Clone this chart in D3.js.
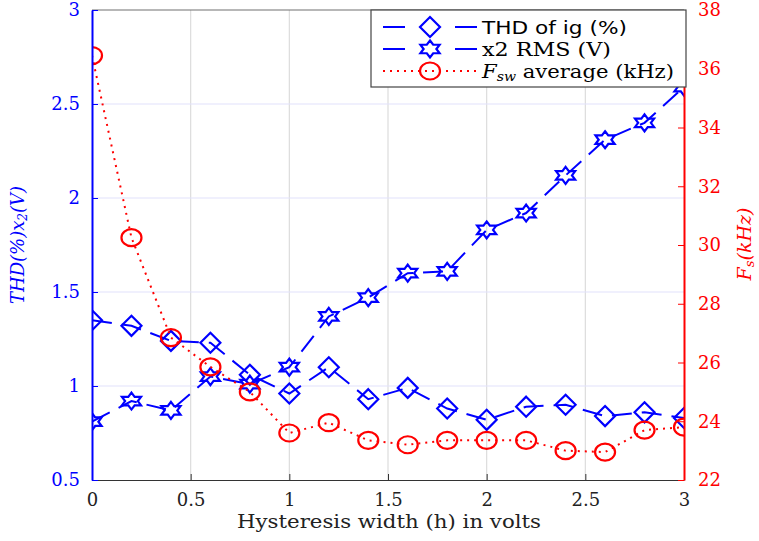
<!DOCTYPE html>
<meta charset="utf-8">
<style>
body { margin: 0; background: #fff; }
.tick text { font-family: "DejaVu Serif", serif; font-size: 18px; }
</style>
<svg width="759" height="541"></svg>
<script src="https://d3js.org/d3.v7.min.js"></script>
<script>

// hysteresis width (V)
var hyst = [0, 0.2, 0.4, 0.6, 0.8, 1.0, 1.2, 1.4, 1.6, 1.8, 2.0, 2.2, 2.4, 2.6, 2.8, 3.0];
// THD of ig (%)
var thd = [1.35, 1.32, 1.24, 1.23, 1.06, 0.96, 1.10, 0.93, 0.99, 0.88, 0.82, 0.89, 0.90, 0.84, 0.86, 0.83];
// x2 RMS (V)
var x2rms = [0.81, 0.92, 0.87, 1.05, 1.01, 1.10, 1.37, 1.47, 1.60, 1.61, 1.83, 1.92, 2.12, 2.31, 2.40, 2.59];
// average switching frequency (kHz)
var fsw = [36.45, 30.25, 26.85, 25.85, 25.0, 23.6, 23.95, 23.35, 23.2, 23.35, 23.35, 23.35, 23.0, 22.95, 23.7, 23.8];

var xTicks = [0, 0.5, 1, 1.5, 2, 2.5, 3];
var yTicks = [0.5, 1, 1.5, 2, 2.5, 3];
var y2Ticks = [22, 24, 26, 28, 30, 32, 34, 36, 38];

var svg = d3.select("svg"),
    pLeft = 92, pRight = 684, pTop = 10, pBottom = 480;

var x = d3.scaleLinear().domain([0, 3]).range([pLeft, pRight]);
var y = d3.scaleLinear().domain([0.5, 3]).range([pBottom, pTop]);
var y2 = d3.scaleLinear().domain([22, 38]).range([pBottom, pTop]);

// markers are clipped to the axes box like in matlab
svg.append("defs").append("clipPath").attr("id", "box")
  .append("rect").attr("x", pLeft).attr("y", pTop)
    .attr("width", pRight - pLeft).attr("height", pBottom - pTop);

// grid
svg.append("g").selectAll("line").data(xTicks.slice(1, -1)).enter().append("line")
    .attr("x1", x).attr("x2", x).attr("y1", pTop).attr("y2", pBottom)
    .attr("stroke", "#dcdcdc").attr("stroke-width", 1.2);
svg.append("g").selectAll("line").data(yTicks.slice(1, -1)).enter().append("line")
    .attr("x1", pLeft).attr("x2", pRight).attr("y1", y).attr("y2", y)
    .attr("stroke", "#e2e2fb").attr("stroke-width", 1.2);

// top border
svg.append("line").attr("x1", pLeft).attr("x2", pRight).attr("y1", pTop).attr("y2", pTop)
    .attr("stroke", "#707070").attr("stroke-width", 1.2);

// marker shapes
function diamond(s) {
  return "M0," + (-s) + "L" + s + ",0L0," + s + "L" + (-s) + ",0Z";
}
function hexagram(r, sx) {
  var p = [];
  for (var i = 0; i < 12; i++) {
    var a = -Math.PI / 2 + i * Math.PI / 6,
        rr = i % 2 ? r / Math.sqrt(3) : r;
    p.push([rr * Math.cos(a) * sx, rr * Math.sin(a)]);
  }
  return "M" + p.join("L") + "Z";
}
var ring = "M-10,0A10,8.5 0 1,0 10,0A10,8.5 0 1,0 -10,0Z";

var plot = svg.append("g").attr("clip-path", "url(#box)");
var idx = d3.range(hyst.length);

function drawSeries(vals, scale, color, dash, marker) {
  var line = d3.line().x(function(i) { return x(hyst[i]); }).y(function(i) { return scale(vals[i]); });
  plot.append("path").datum(idx).attr("d", line)
      .attr("fill", "none").attr("stroke", color).attr("stroke-width", 2)
      .attr("stroke-dasharray", dash);
  plot.append("g").selectAll("path").data(idx).enter().append("path")
      .attr("transform", function(i) { return "translate(" + x(hyst[i]) + "," + scale(vals[i]) + ")"; })
      .attr("d", marker)
      .attr("fill", "none").attr("stroke", color).attr("stroke-width", 2.2);
}

drawSeries(thd, y, "#0000ff", "20,10", diamond(10));
drawSeries(x2rms, y, "#0000ff", "20,10", hexagram(8.5, 1.3));
drawSeries(fsw, y2, "#ff0000", "2,5", ring);

// axes
var xAxis = svg.append("g").attr("transform", "translate(0," + pBottom + ")")
    .call(d3.axisBottom(x).tickValues(xTicks).tickSizeInner(-6).tickSizeOuter(0).tickPadding(13).tickFormat(d3.format("")));
xAxis.select(".domain").attr("stroke", "#333").attr("stroke-width", 1.2);
xAxis.selectAll(".tick line").attr("stroke", "#333");
xAxis.selectAll(".tick text").attr("fill", "#222");

var yAxis = svg.append("g").attr("transform", "translate(" + pLeft + ",0)")
    .call(d3.axisLeft(y).tickValues(yTicks).tickSizeInner(-6).tickSizeOuter(0).tickPadding(12).tickFormat(d3.format("")));
yAxis.select(".domain").attr("stroke", "#0000ff").attr("stroke-width", 2);
yAxis.selectAll(".tick line").attr("stroke", "#0000ff");
yAxis.selectAll(".tick text").attr("fill", "#0000ff");

var y2Axis = svg.append("g").attr("transform", "translate(" + pRight + ",0)")
    .call(d3.axisRight(y2).tickValues(y2Ticks).tickSizeInner(-6).tickSizeOuter(0).tickPadding(14));
y2Axis.select(".domain").attr("stroke", "#ff0000").attr("stroke-width", 2);
y2Axis.selectAll(".tick line").attr("stroke", "#ff0000");
y2Axis.selectAll(".tick text").attr("fill", "#ff0000");

// axis titles
svg.append("text").attr("x", 237).attr("y", 528)
    .attr("textLength", 304).attr("lengthAdjust", "spacingAndGlyphs")
    .style("font", "18px 'DejaVu Serif', serif").attr("fill", "#222")
    .text("Hysteresis width (h) in volts");

var yl = svg.append("text").attr("transform", "translate(24,245) rotate(-90)")
    .attr("text-anchor", "middle").attr("fill", "#0000ff")
    .style("font", "italic 18px 'DejaVu Serif', serif");
yl.append("tspan").text("THD(%)x");
yl.append("tspan").attr("baseline-shift", "-25%").style("font-size", "12px").text("2");
yl.append("tspan").text("(V)");

var yr = svg.append("text").attr("transform", "translate(751,244) rotate(-90)")
    .attr("text-anchor", "middle").attr("fill", "#ff0000")
    .style("font", "italic 19px 'DejaVu Serif', serif");
yr.append("tspan").text("F");
yr.append("tspan").attr("baseline-shift", "-25%").style("font-size", "13px").text("s");
yr.append("tspan").text("(kHz)");

// legend
var lg = svg.append("g");
lg.append("rect").attr("x", 371).attr("y", 10).attr("width", 315).attr("height", 77)
    .attr("fill", "#fff").attr("stroke", "#444").attr("stroke-width", 1.2);

var legendItems = [
  {label: "THD of ig (%)", color: "#0000ff", dash: "22,50", marker: diamond(10), y: 27, w: 145},
  {label: "x2 RMS (V)", color: "#0000ff", dash: "22,50", marker: hexagram(8.5, 1.3), y: 49, w: 129},
  {label: "average (kHz)", color: "#ff0000", dash: "2,5", marker: ring, y: 71, w: 192}
];

legendItems.forEach(function(d, i) {
  lg.append("line").attr("x1", 383).attr("x2", 477).attr("y1", d.y).attr("y2", d.y)
      .attr("stroke", d.color).attr("stroke-width", 2).attr("stroke-dasharray", d.dash);
  lg.append("path").attr("transform", "translate(430," + d.y + ")").attr("d", d.marker)
      .attr("fill", "none").attr("stroke", d.color).attr("stroke-width", 2.2);
  var t = lg.append("text").attr("x", 482).attr("y", d.y + 7).attr("fill", "#000")
      .attr("textLength", d.w).attr("lengthAdjust", "spacingAndGlyphs");
  if (i === 0) {
    t.style("font", "18px 'DejaVu Sans', sans-serif").text(d.label);
  } else if (i === 1) {
    t.style("font", "18px 'DejaVu Serif', serif").text(d.label);
  } else {
    t.style("font", "18px 'DejaVu Serif', serif");
    t.append("tspan").style("font-style", "italic").text("F");
    t.append("tspan").style("font-style", "italic").style("font-size", "12px").attr("baseline-shift", "-25%").text("sw");
    t.append("tspan").text(" " + d.label);
  }
});

</script>
